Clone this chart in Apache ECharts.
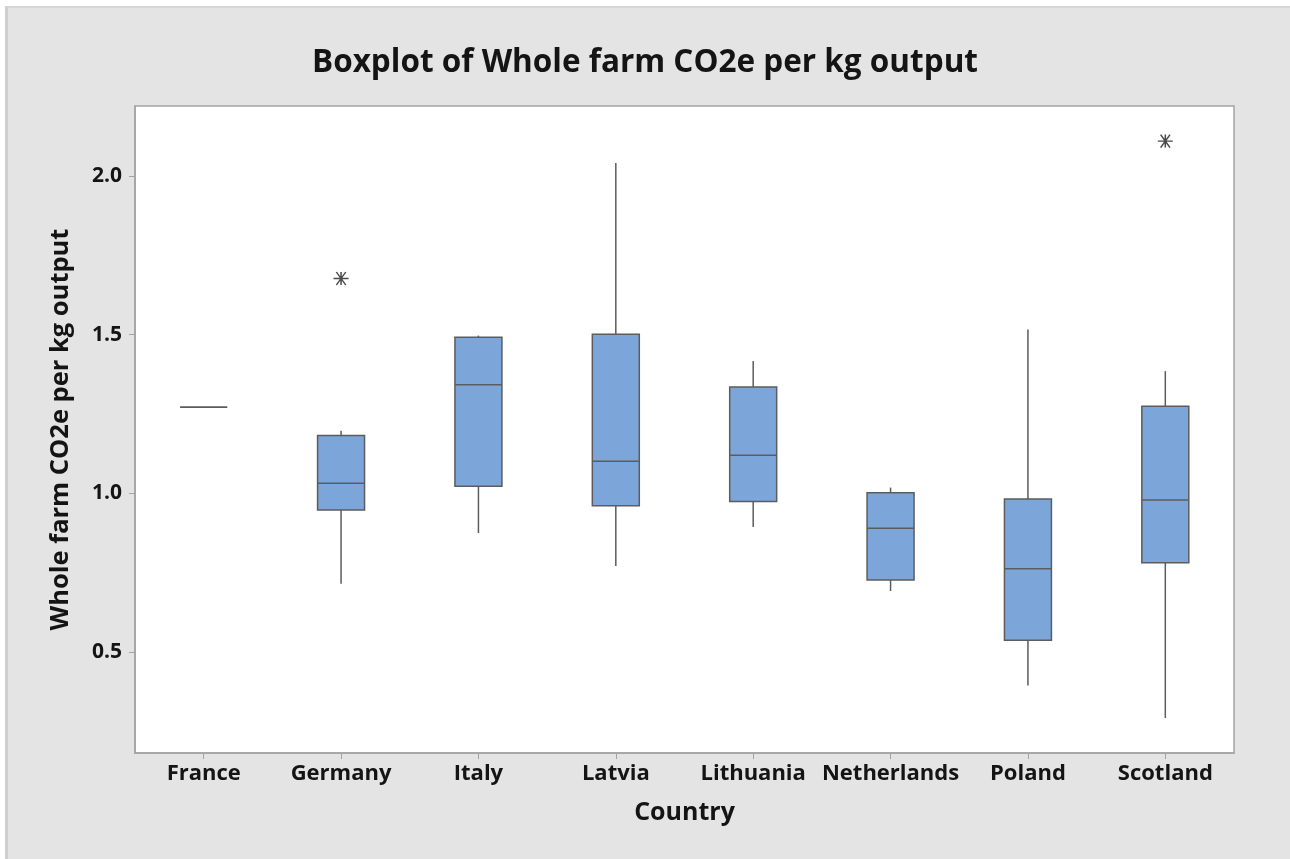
<!DOCTYPE html>
<html>
<head>
<meta charset="utf-8">
<title>Boxplot of Whole farm CO2e per kg output</title>
<script src="https://cdn.jsdelivr.net/npm/echarts@6/dist/echarts.min.js"></script>
<style>
  html, body { margin: 0; padding: 0; background: #ffffff; }
  #frame {
    position: absolute; left: 5px; top: 6px; width: 1285px; height: 853px;
    background: #e4e4e4; border-left: 3px solid #cfcfcf; border-top: 2px solid #d6d6d6;
    box-sizing: border-box;
  }
  #chart { position: absolute; left: 0; top: 0; width: 1290px; height: 859px; }
</style>
</head>
<body>
<div id="frame"></div>
<div id="chart"></div>
<script>
// Countries on the x axis
const countries = ['France', 'Germany', 'Italy', 'Latvia', 'Lithuania', 'Netherlands', 'Poland', 'Scotland'];

// Five-number summaries (whisker ends, quartiles, median), one value per country
const whiskerLow  = [1.271, 0.715, 0.875, 0.771, 0.894, 0.692, 0.394, 0.292];
const quartile1   = [1.271, 0.947, 1.022, 0.961, 0.974, 0.727, 0.537, 0.781];
const medians     = [1.271, 1.032, 1.342, 1.101, 1.120, 0.890, 0.762, 0.979];
const quartile3   = [1.271, 1.182, 1.492, 1.501, 1.335, 1.002, 0.982, 1.274];
const whiskerHigh = [1.271, 1.197, 1.497, 2.041, 1.417, 1.018, 1.516, 1.385];

// Outliers beyond the whiskers
const outlierCountry = ['Germany', 'Scotland'];
const outlierValue   = [1.677, 2.110];

// Y axis tick values
const yTicks = [0.5, 1.0, 1.5, 2.0];

const boxRows = countries.map((c, i) =>
  [i, whiskerLow[i], quartile1[i], medians[i], quartile3[i], whiskerHigh[i]]);
const outlierRows = outlierCountry.map((c, i) => [countries.indexOf(c), outlierValue[i]]);

const FONT = '"Open Sans", "Noto Sans", sans-serif';
const TEXT = '#141414';
const EDGE = '#5c5c5c';
const FILL = '#7ca6d9';

function renderBox(params, api) {
  const i = api.value(0);
  const lo = api.coord([i, api.value(1)]);
  const q1 = api.coord([i, api.value(2)]);
  const md = api.coord([i, api.value(3)]);
  const q3 = api.coord([i, api.value(4)]);
  const hi = api.coord([i, api.value(5)]);
  const half = api.size([1, 0])[0] * 0.171;
  const x = lo[0];
  const lineStyle = { stroke: EDGE, lineWidth: 1.5 };
  return {
    type: 'group',
    children: [
      { type: 'line', shape: { x1: x, y1: q3[1], x2: x, y2: hi[1] }, style: lineStyle },
      { type: 'line', shape: { x1: x, y1: q1[1], x2: x, y2: lo[1] }, style: lineStyle },
      { type: 'rect', shape: { x: x - half, y: q3[1], width: half * 2, height: q1[1] - q3[1] },
        style: { fill: FILL, stroke: EDGE, lineWidth: 1.5 } },
      { type: 'line', shape: { x1: x - half, y1: md[1], x2: x + half, y2: md[1] }, style: lineStyle }
    ]
  };
}

const chart = echarts.init(document.getElementById('chart'), null, { renderer: 'canvas' });
chart.setOption({
  backgroundColor: 'transparent',
  animation: false,
  title: {
    text: 'Boxplot of Whole farm CO2e per kg output',
    left: 'center',
    top: 42,
    textStyle: { fontFamily: FONT, fontSize: 31.5, fontWeight: 'bold', color: TEXT }
  },
  grid: {
    left: 135, right: 56, top: 106, bottom: 106,
    show: true, backgroundColor: '#ffffff', borderColor: '#a3a3a3', borderWidth: 1.5
  },
  xAxis: {
    type: 'category',
    data: countries,
    boundaryGap: true,
    name: 'Country',
    nameLocation: 'middle',
    nameGap: 47,
    nameTextStyle: { fontFamily: FONT, fontSize: 25, fontWeight: 'bold', color: TEXT },
    axisLine: { show: true, lineStyle: { color: '#a3a3a3', width: 1.5 } },
    axisTick: { show: true, alignWithLabel: true, length: 6, lineStyle: { color: '#a3a3a3' } },
    axisLabel: { fontFamily: FONT, fontSize: 22, fontWeight: 'bold', color: TEXT, margin: 10, interval: 0 },
    splitLine: { show: false }
  },
  yAxis: {
    type: 'value',
    min: 0.1815,
    max: 2.2207,
    name: 'Whole farm CO2e per kg output',
    nameLocation: 'middle',
    nameGap: 61,
    nameTextStyle: { fontFamily: FONT, fontSize: 25.5, fontWeight: 'bold', color: TEXT },
    axisLine: { show: true, lineStyle: { color: '#a3a3a3', width: 1.5 } },
    axisTick: { show: true, length: 6, lineStyle: { color: '#a3a3a3' }, customValues: yTicks },
    axisLabel: {
      fontFamily: FONT, fontSize: 21, fontWeight: 'bold', color: TEXT, margin: 13,
      customValues: yTicks,
      formatter: v => Number(v).toFixed(1)
    },
    splitLine: { show: false }
  },
  series: [
    {
      type: 'custom',
      renderItem: renderBox,
      encode: { x: 0, y: [1, 2, 3, 4, 5] },
      data: boxRows,
      z: 3
    },
    {
      type: 'scatter',
      data: outlierRows,
      symbol: 'path://M0,6L16,6M3,0L13,12M3,12L13,0M8,0L8,12',
      symbolSize: [15, 13],
      itemStyle: { color: 'transparent', borderColor: '#4a4a4a', borderWidth: 1.4, opacity: 1 },
      z: 4
    }
  ]
});
</script>
</body>
</html>
